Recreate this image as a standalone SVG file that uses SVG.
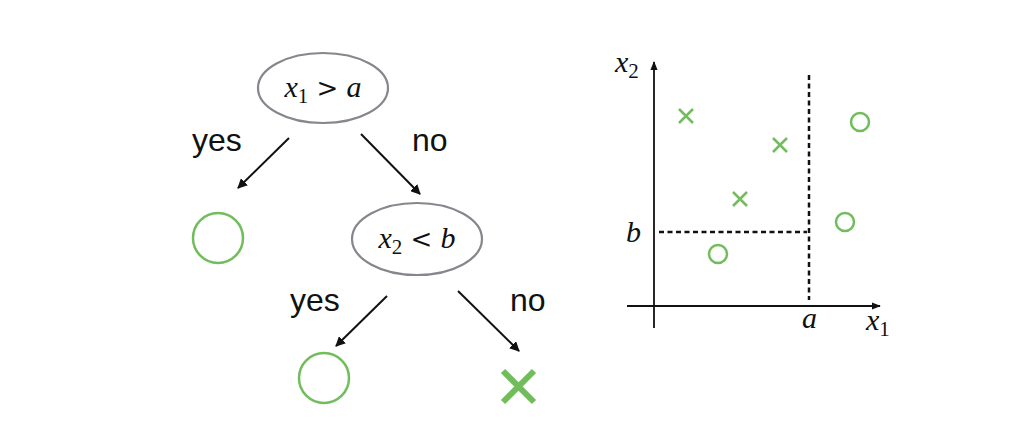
<svg xmlns="http://www.w3.org/2000/svg" width="1009" height="427" viewBox="0 0 1009 427">
<defs>
<style>
.node{fill:#fff;stroke:#85878c;stroke-width:2.2}
.math{font-family:"Liberation Serif",serif;font-style:italic;fill:#111}
.sub{font-family:"Liberation Serif",serif;font-style:normal;fill:#111}
.rel{font-family:"DejaVu Serif",serif;font-style:normal;fill:#111}
.lbl{font-family:"Liberation Sans",Arial,sans-serif;font-size:32px;fill:#111}
.edge{stroke:#111;stroke-width:2;fill:none;marker-end:url(#ah)}
.gc{fill:none;stroke:#72bd5b;stroke-width:2.5}
.gx{stroke:#72bd5b;stroke-width:2.5;fill:none}
.axis{stroke:#111;stroke-width:1.8;fill:none}
.dash{stroke:#111;stroke-width:2.5;stroke-dasharray:5,3.5;fill:none}
</style>
<marker id="ah" viewBox="0 0 10 10" refX="9" refY="5" markerWidth="5" markerHeight="5" orient="auto"><path d="M0,0 L10,5 L0,10 z" fill="#111"/></marker>
<marker id="ah2" viewBox="0 0 10 10" refX="9" refY="5" markerWidth="5" markerHeight="5" orient="auto"><path d="M0,1 L10,5 L0,9 z" fill="#111"/></marker>
</defs>
<rect width="1009" height="427" fill="#fff"/>
<g id="root">
<ellipse class="node" cx="323" cy="88" rx="65" ry="35"/>
<text class="math" x="323" y="97" font-size="30" text-anchor="middle">x<tspan class="sub" font-size="21" dy="6">1</tspan><tspan class="rel" dy="-6" font-size="26"> &gt; </tspan><tspan>a</tspan></text>
</g>
<g id="decision2">
<ellipse class="node" cx="417" cy="239" rx="65" ry="36"/>
<text class="math" x="417" y="248" font-size="30" text-anchor="middle">x<tspan class="sub" font-size="21" dy="6">2</tspan><tspan class="rel" dy="-6" font-size="26"> &lt; </tspan><tspan>b</tspan></text>
</g>
<g id="leaf1"><circle class="gc" cx="218" cy="238" r="25"/></g>
<g id="leaf2"><circle class="gc" cx="324" cy="378" r="25"/></g>
<g id="leaf3"><path d="M503,371 L534,402 M534,371 L503,402" stroke="#72bd5b" stroke-width="6" fill="none"/></g>
<g id="connectors">
<path class="edge" d="M289,138 L238,188"/>
<path class="edge" d="M361,134 L420,194"/>
<path class="edge" d="M387,296 L336,346"/>
<path class="edge" d="M458,291 L519,351"/>
</g>
<g id="edge-labels">
<text class="lbl" x="192" y="151">yes</text>
<text class="lbl" x="412" y="151">no</text>
<text class="lbl" x="290" y="311">yes</text>
<text class="lbl" x="510" y="311">no</text>
</g>
<g id="plot">
<path class="axis" d="M654,328 L654,62" marker-end="url(#ah2)"/>
<path class="axis" d="M627,306 L880,306" marker-end="url(#ah2)"/>
<path class="dash" d="M659,232 L807,232"/>
<path class="dash" d="M809,75 L809,300"/>
<text class="math" x="615" y="72" font-size="30">x<tspan class="sub" font-size="21" dy="6">2</tspan></text>
<text class="math" x="626" y="242" font-size="30">b</text>
<text class="math" x="802" y="328" font-size="30">a</text>
<text class="math" x="866" y="330" font-size="30">x<tspan class="sub" font-size="21" dy="6">1</tspan></text>
<path class="gx" d="M679,109 L693,123 M693,109 L679,123"/>
<path class="gx" d="M773,138 L787,152 M787,138 L773,152"/>
<path class="gx" d="M733,192 L747,206 M747,192 L733,206"/>
<circle class="gc" cx="860" cy="122" r="9"/>
<circle class="gc" cx="845" cy="222" r="9"/>
<circle class="gc" cx="718" cy="254" r="9"/>
</g>
</svg>
